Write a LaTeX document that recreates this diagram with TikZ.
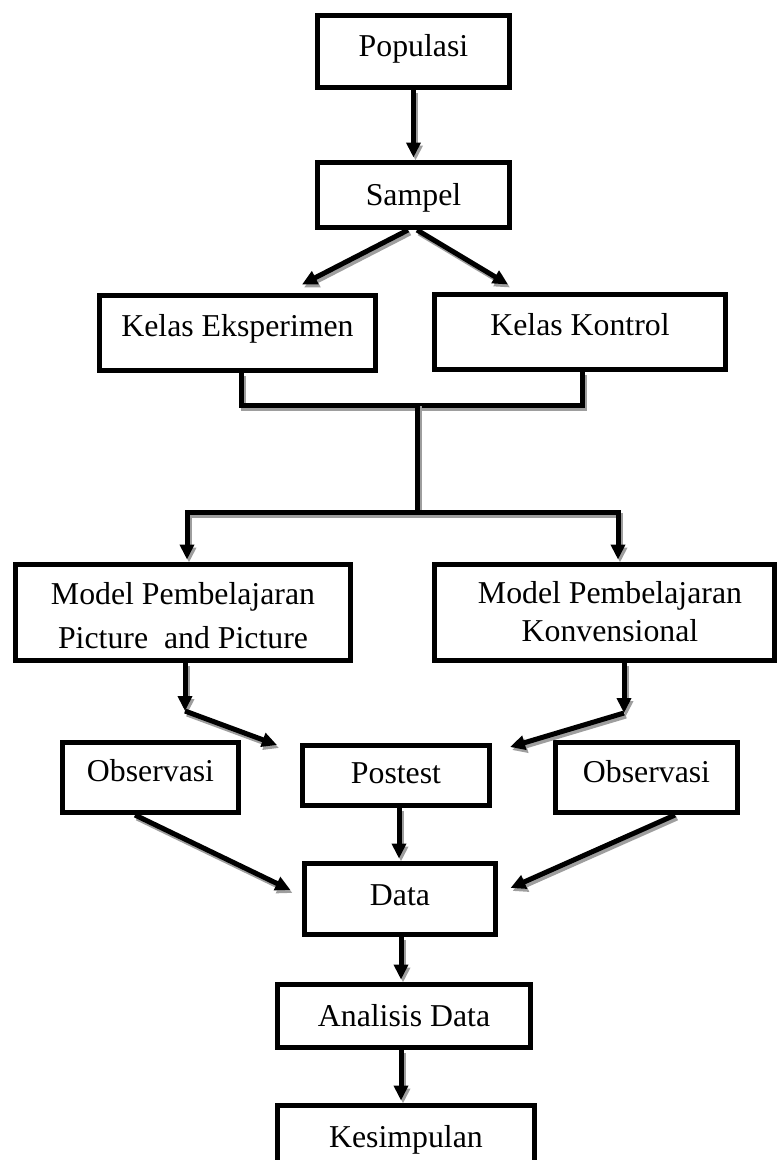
\documentclass[tikz,border=0pt]{standalone}
\usepackage{fontspec}
\setmainfont{Liberation Serif}
\usetikzlibrary{arrows.meta}
\begin{document}
\begin{tikzpicture}[x=1pt,y=-1pt,
  font=\fontsize{31.8pt}{38pt}\selectfont,
  box/.style={draw, line width=5pt, inner sep=0pt, text depth=20pt, align=center},
  shade/.style={preaction={draw=black!38, line width=5pt, transform canvas={shift={(2pt,-3pt)}}}},
  ln/.style={line width=5pt, line join=miter, shade},
  arr/.style={line width=5pt, line join=miter, -{Triangle[length=15pt,width=14pt]}, shade},
  arrn/.style={arr, shorten >=2.5pt}
]
\useasboundingbox (0,0) rectangle (777,1160);
\clip (0,0) rectangle (777,1160);

% boxes
\node[box, minimum width=192pt, minimum height=72pt, text height=29pt] (pop) at (413.5,51.5) {Populasi};
\node[box, minimum width=192pt, minimum height=65pt, text height=40pt] (sam) at (413.5,195) {Sampel};
\node[box, minimum width=276pt, minimum height=75pt, text height=26pt] (eks) at (237.5,333) {Kelas Eksperimen};
\node[box, minimum width=291pt, minimum height=75pt, text height=26pt] (kon) at (580,332) {Kelas Kontrol};
\node[box, minimum width=335pt, minimum height=96pt, text height=81pt, text depth=10pt,
      font=\fontsize{31.8pt}{44pt}\selectfont] (m1) at (183,612.5)
  {\begin{tabular}[b]{@{}c@{}}Model Pembelajaran\\Picture\ \ and Picture\end{tabular}};
\node[box, minimum width=340pt, minimum height=96pt, text height=67pt, text depth=10pt,
      font=\fontsize{31.8pt}{38pt}\selectfont] (m2) at (604.5,612.5)
  {\begin{tabular}[b]{@{\hspace{11pt}}c@{}}Model Pembelajaran\\Konvensional\end{tabular}};
\node[box, minimum width=176pt, minimum height=70pt, text height=27pt] (obs1) at (150.5,777.5) {Observasi};
\node[box, minimum width=187pt, minimum height=60pt, text height=35pt] (post) at (396,775.5) {Postest};
\node[box, minimum width=182pt, minimum height=70pt, text height=29pt] (obs2) at (646.5,777.5) {Observasi};
\node[box, minimum width=191pt, minimum height=71pt, text height=32pt] (data) at (400,899) {Data};
\node[box, minimum width=253pt, minimum height=63pt, text height=40pt] (ana) at (404,1016) {Analisis Data};
\node[box, minimum width=257pt, minimum height=67pt, text height=36pt] (kes) at (406,1139) {Kesimpulan};

% junction points
\coordinate (j1) at (417,403);
\coordinate (j2) at (417,512);
\coordinate (c1) at (185,711);
\coordinate (t1) at (277,745);
\coordinate (c2) at (624,713);
\coordinate (t2) at (510,747);

% connectors
\draw[arrn] (pop.south) -- (sam.north);
\draw[arr] ([xshift=-5.5pt]sam.south) -- ([xshift=64.5pt,yshift=8.5pt]eks.north);
\draw[arr] ([xshift=3.5pt]sam.south) -- ([xshift=-72pt,yshift=7.5pt]kon.north);
\draw[ln] ([xshift=3.5pt]eks.south) -- ++(0,32.5) -| ([xshift=2pt]kon.south);
\draw[ln] (j1) -- (j2);
\draw[arrn] (j2) -| ([xshift=4pt]m1.north);
\draw[arrn] (j2) -| ([xshift=13.5pt]m2.north);
\draw[arr] ([xshift=2pt]m1.south) -- (c1);
\draw[arr] (c1) -- (t1);
\draw[arr] ([xshift=19.5pt]m2.south) -- (c2);
\draw[arr] (c2) -- (t2);
\draw[arr] ([xshift=-15.5pt]obs1.south) -- ([xshift=-11.5pt,yshift=9pt]data.west);
\draw[arrn] ([xshift=3pt]post.south) -- ([xshift=-1pt]data.north);
\draw[arr] ([xshift=28.5pt]obs2.south) -- ([xshift=12.5pt,yshift=11pt]data.east);
\draw[arrn] ([xshift=1pt]data.south) -- ([xshift=-3pt]ana.north);
\draw[arrn] ([xshift=-3pt]ana.south) -- ([xshift=-5pt]kes.north);
\end{tikzpicture}
\end{document}
